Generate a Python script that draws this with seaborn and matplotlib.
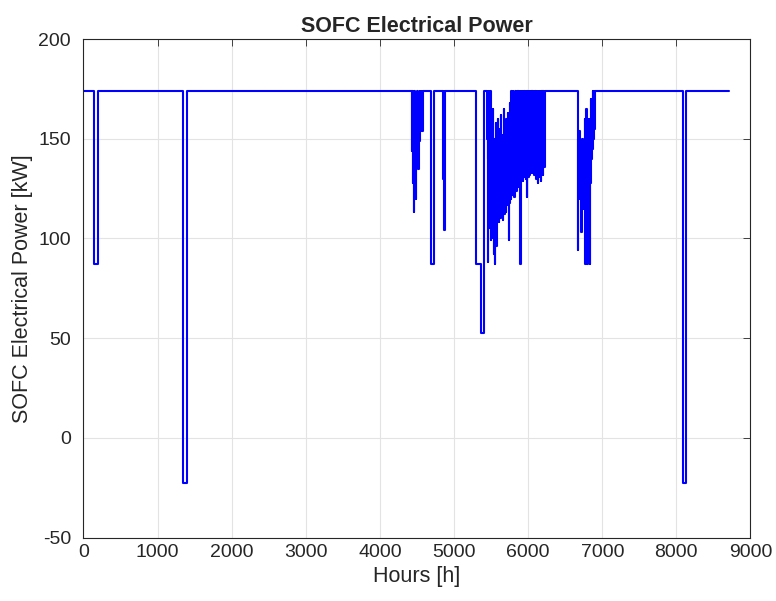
import numpy as np
import pandas as pd
import seaborn as sns
import matplotlib.pyplot as plt

# %%
# Data (hours, kW). Stepped series: value holds until next point.
event_hours = [0, 148, 192, 1348, 1402, 4690, 4735, 4854, 4861, 4868, 4880,
               5290, 5362, 5410, 6222, 6910, 8090, 8130, 8710]
event_power = [174, 87, 174, -22.5, 174, 87, 174, 130, 174, 104, 174,
               87, 52.5, 174, 174, 174, -22.5, 174, 174]

# dense clusters, sampled every few hours
cluster1_start, cluster1_step = 4431, 7
cluster1_power = [144, 174, 128, 150, 113, 174, 138, 120, 160, 149, 174,
                  152, 135, 170, 149, 174, 154, 174, 160, 174, 154, 174]

cluster2_start, cluster2_step = 5442, 5
cluster2_power = [174, 150, 88, 174, 140, 120, 174, 105, 150, 130, 174, 99, 160, 118, 145,
                  110, 165, 100, 135, 92, 150, 120, 87, 140, 108, 158, 96, 130, 115, 160,
                  112, 140, 108, 155, 113, 135, 110, 162, 114, 148, 112, 116, 138, 109, 152,
                  122, 165, 112, 142, 115, 117, 150, 113, 160, 120, 145, 117, 163, 118, 99,
                  140, 118, 168, 122, 155, 120, 174, 126, 160, 122, 150, 174, 124, 165, 121,
                  158, 128, 174, 125, 170, 124, 160, 174, 126, 150, 174, 127, 166, 130, 174,
                  87,
                  174, 136, 168, 130, 174, 150, 129, 174, 132, 160, 174, 131, 165, 135, 174,
                  130, 170, 121, 174, 134, 162, 131, 174, 150, 132, 174, 138, 168, 133, 174,
                  136, 160, 174, 133, 170, 140, 174, 132, 165, 136, 174, 134, 172, 130,
                  174, 145, 128, 170, 136, 174, 131, 160, 174, 135, 168, 129, 174, 138,
                  150, 174, 132, 166, 174, 140, 136, 174]

cluster3_start, cluster3_step = 6660, 6
cluster3_power = [174, 94, 174, 150, 120, 154, 128, 140, 110, 103, 135, 118, 150, 125,
                  145, 115, 130, 160, 87, 140, 122, 165, 130, 87, 150, 118, 160, 135,
                  87, 155, 128, 170, 140, 160, 145, 174, 150, 168, 174, 155, 174]

# %%
# Build one dataframe
hours = np.concatenate([
    event_hours,
    cluster1_start + cluster1_step * np.arange(len(cluster1_power)),
    cluster2_start + cluster2_step * np.arange(len(cluster2_power)),
    cluster3_start + cluster3_step * np.arange(len(cluster3_power)),
])
power = np.concatenate([event_power, cluster1_power, cluster2_power, cluster3_power])
data = pd.DataFrame({'hours': hours, 'power': power}).sort_values('hours')

# %%
sns.set_style('white')
plt.rcParams['font.family'] = ['Liberation Sans', 'DejaVu Sans']
plt.rcParams['axes.unicode_minus'] = False
dark = '#262626'

fig = plt.figure(figsize=(7.76, 6.01), dpi=100)
ax = fig.add_axes([0.1076, 0.1056, 0.8595, 0.8295])

sns.lineplot(data=data, x='hours', y='power', ax=ax, color='#0000ff',
             linewidth=1.5, drawstyle='steps-post', estimator=None, sort=False)

ax.set_xlim(0, 9000)
ax.set_ylim(-50, 200)
ax.set_xticks(np.arange(0, 9001, 1000))
ax.set_yticks(np.arange(-50, 201, 50))
ax.grid(True, color='#e3e3e3', linewidth=0.8)
ax.set_axisbelow(True)
for s in ax.spines.values():
    s.set_color(dark)
    s.set_linewidth(0.8)
ax.tick_params(direction='in', top=True, right=True, length=5, width=0.6,
               color=dark, labelcolor=dark, labelsize=14)
ax.tick_params(axis='y', pad=9)
ax.tick_params(axis='x', pad=5)
ax.set_xlabel('Hours [h]', fontsize=15.5, color=dark, labelpad=3)
ax.set_ylabel('SOFC Electrical Power [kW]', fontsize=15.5, color=dark, labelpad=4)
ax.set_title('SOFC Electrical Power', fontsize=15.5, fontweight='bold', pad=5)

fig.savefig('out.png', dpi=100)
